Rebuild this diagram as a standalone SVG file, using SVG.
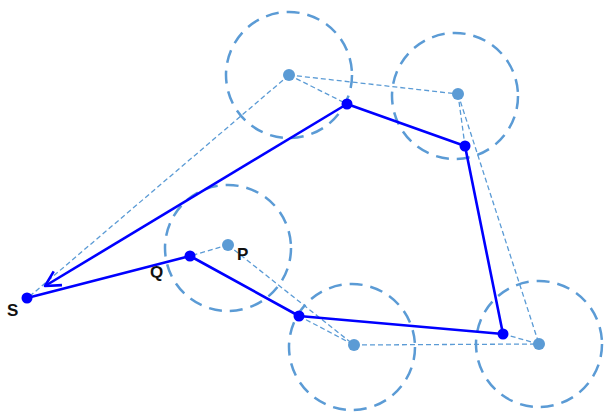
<svg xmlns="http://www.w3.org/2000/svg" width="612" height="413" viewBox="0 0 612 413">
<style>
.circ{fill:none;stroke:#5b9bd5;stroke-width:2.5;stroke-dasharray:13 8}
.thin{fill:none;stroke:#5b9bd5;stroke-width:1.3;stroke-dasharray:5 3}
.ctr{fill:#5b9bd5}
.path{fill:none;stroke:#0000ff;stroke-width:2.6;stroke-linejoin:round}
.pt{fill:#0000ff}
.lbl{font-family:"Liberation Sans",Arial,sans-serif;font-weight:bold;font-size:17px;fill:#111}
</style>
<defs>
<marker id="arr" viewBox="0 0 20 20" refX="18" refY="10" markerWidth="20" markerHeight="20" markerUnits="userSpaceOnUse" orient="auto">
<path d="M3,2 L18,10 L3,18" fill="none" stroke="#0000ff" stroke-width="2.6" stroke-linejoin="round"/>
</marker>
</defs>
<g id="regions">
<circle id="r1" class="circ" cx="289" cy="75" r="63"/>
<circle id="r2" class="circ" cx="455" cy="96" r="63"/>
<circle id="r3" class="circ" cx="228" cy="248" r="63"/>
<circle id="r4" class="circ" cx="352" cy="347" r="63"/>
<circle id="r5" class="circ" cx="539" cy="344" r="63"/>
</g>
<g id="connectors">
<line class="thin" x1="289" y1="75" x2="30" y2="296"/>
<line class="thin" x1="289" y1="75" x2="347" y2="104"/>
<line class="thin" x1="289" y1="75" x2="458" y2="94"/>
<line class="thin" x1="458" y1="94" x2="465" y2="146"/>
<line class="thin" x1="458" y1="94" x2="539" y2="344"/>
<line class="thin" x1="228" y1="245" x2="190" y2="256"/>
<line class="thin" x1="228" y1="245" x2="354" y2="345"/>
<line class="thin" x1="299" y1="316" x2="354" y2="345"/>
<line class="thin" x1="354" y1="345" x2="539" y2="344"/>
<line class="thin" x1="503" y1="334" x2="539" y2="344"/>
<polyline class="path" points="27,298 190,256 299,316 503,334 465,146 347,104"/>
<line class="path" x1="347" y1="104" x2="45" y2="286" marker-end="url(#arr)"/>
</g>
<g id="centers">
<circle class="ctr" cx="289" cy="75" r="6"/>
<circle class="ctr" cx="458" cy="94" r="6"/>
<circle class="ctr" cx="228" cy="245" r="6"/>
<circle class="ctr" cx="354" cy="345" r="6"/>
<circle class="ctr" cx="539" cy="344" r="6"/>
</g>
<g id="points">
<circle id="S" class="pt" cx="27" cy="298" r="5.5"/>
<circle id="Q" class="pt" cx="190" cy="256" r="5.5"/>
<circle class="pt" cx="299" cy="316" r="5.5"/>
<circle class="pt" cx="503" cy="334" r="5.5"/>
<circle class="pt" cx="465" cy="146" r="5.5"/>
<circle class="pt" cx="347" cy="104" r="5.5"/>
</g>
<g id="labels">
<text class="lbl" x="7" y="316">S</text>
<text class="lbl" x="150" y="278">Q</text>
<text class="lbl" x="237" y="260">P</text>
</g>
</svg>
